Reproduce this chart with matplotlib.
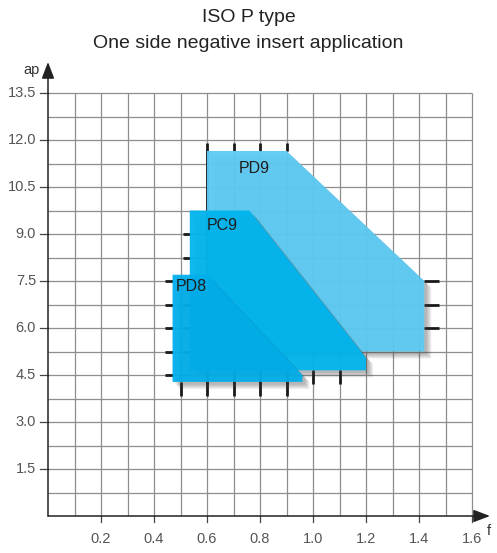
import matplotlib
matplotlib.use("Agg")
import matplotlib.pyplot as plt
import matplotlib.patheffects as pe
from matplotlib.patches import Polygon
import numpy as np

plt.rcParams['font.family'] = ['Liberation Sans', 'DejaVu Sans']

# Application windows: feed f (mm/rev) vs depth of cut ap (mm)
pd9_f = [0.60, 0.90, 1.42, 1.42, 0.60]
pd9_ap = [11.65, 11.65, 7.50, 5.25, 5.25]
pc9_f = [0.535, 0.76, 1.20, 1.20, 0.535]
pc9_ap = [9.75, 9.75, 5.05, 4.65, 4.65]
pd8_f = [0.47, 0.60, 0.96, 0.96, 0.47]
pd8_ap = [7.70, 7.70, 4.50, 4.28, 4.28]

names = ["PD9", "PC9", "PD8"]
x_ticks = [0.2, 0.4, 0.6, 0.8, 1.0, 1.2, 1.4, 1.6]
y_ticks = [1.5, 3.0, 4.5, 6.0, 7.5, 9.0, 10.5, 12.0, 13.5]

W, H = 497, 553
fig = plt.figure(figsize=(W / 100, H / 100), dpi=100)
x0, x1 = 48, 490
y0, y1 = 516, 62
ax = fig.add_axes([x0 / W, (H - y0) / H, (x1 - x0) / W, (y0 - y1) / H])

FMAX, APMAX = 1.6, 13.5
xlim_hi = FMAX * (x1 - x0) / (472 - x0)
ylim_hi = APMAX * (y0 - y1) / (y0 - 93)
ax.set_xlim(0, xlim_hi)
ax.set_ylim(0, ylim_hi)
for s in ax.spines.values():
    s.set_visible(False)
ax.set_xticks([])
ax.set_yticks([])

grid_c = "#8e8e8e"
gx = np.round(np.arange(0.1, FMAX + 1e-9, 0.1), 2)
gy = np.round(np.arange(0.75, APMAX + 1e-9, 0.75), 2)
for v in gx:
    ax.plot([v, v], [0, APMAX], color=grid_c, lw=0.9, zorder=1, solid_capstyle='butt')
for v in gy:
    ax.plot([0, FMAX], [v, v], color=grid_c, lw=0.9, zorder=1, solid_capstyle='butt')

# axes with arrow heads
arrow = dict(arrowstyle="-|>,head_length=1.0,head_width=0.38",
             color="#222222", lw=1.1, shrinkA=0, shrinkB=0)
ax.annotate("", xy=(xlim_hi, 0), xytext=(0, 0), arrowprops=arrow,
            zorder=6, annotation_clip=False)
ax.annotate("", xy=(0, ylim_hi), xytext=(0, 0), arrowprops=arrow,
            zorder=6, annotation_clip=False)

tick_c = "#555555"
for v in x_ticks:
    ax.plot([v, v], [0, -0.2], color="#444444", lw=0.9, clip_on=False, zorder=5)
    ax.text(v, -0.5, f"{v:.1f}", ha="center", va="top", fontsize=10.5, color=tick_c)
for v in y_ticks:
    ax.plot([-0.03, 0], [v, v], color="#444444", lw=0.9, clip_on=False, zorder=5)
    ax.text(-0.045, v, f"{v:.1f}", ha="right", va="center", fontsize=10.5, color=tick_c)

ax.text(-0.03, ylim_hi - 0.25, "ap", ha="right", va="center", fontsize=10.5, color="#333333")
ax.text(xlim_hi - 0.005, -0.25, "f", ha="center", va="top", fontsize=10.5, color="#333333")

stub_kw = dict(color="#1a1a1a", lw=2.0, zorder=2, solid_capstyle='butt')


def bottom_left_stubs(fs, aps):
    xmin, xmax = min(fs), max(fs)
    ymin, ymax = min(aps), max(aps)
    for v in gx:
        if xmin < v < xmax:
            ax.plot([v, v], [ymin - 0.45, ymin], **stub_kw)
    for v in gy:
        if ymin < v < ymax:
            ax.plot([xmin - 0.027, xmin], [v, v], **stub_kw)


def top_right_stubs(fs, aps):
    xmin, xmax = min(fs), max(fs)
    ymin, ymax = min(aps), max(aps)
    for v in gx:
        if xmin < v <= fs[1] + 1e-9:
            ax.plot([v, v], [ymax, ymax + 0.25], **stub_kw)
    for v in gy:
        if ymin < v <= aps[2] + 1e-9:
            ax.plot([xmax, xmax + 0.055], [v, v], **stub_kw)
    ax.plot([xmin, xmin], [ymin, ymax + 0.25], **stub_kw)


top_right_stubs(pd9_f, pd9_ap)
bottom_left_stubs(pc9_f, pc9_ap)
bottom_left_stubs(pd8_f, pd8_ap)

shapes = [
    (pd9_f, pd9_ap, "#5ccaf3", (0.777, 11.1)),
    (pc9_f, pc9_ap, "#00b5ee", (0.657, 9.26)),
    (pd8_f, pd8_ap, "#00aeeb", (0.54, 7.31)),
]
# soft drop shadow built from several faint offset layers
shadow = [pe.SimplePatchShadow(offset=(k, -k), shadow_rgbFace="#404040", alpha=0.11)
          for k in (5, 4, 3, 2)] + [pe.Normal()]
for i, (fs, aps, col, lab) in enumerate(shapes):
    poly = Polygon(np.column_stack([fs, aps]), closed=True, facecolor=col,
                   edgecolor="none", alpha=0.94, zorder=3 + i * 0.1,
                   path_effects=shadow)
    ax.add_patch(poly)
    ax.text(lab[0], lab[1], names[i], ha="center", va="center", fontsize=11.5,
            color="#1e1e1e", zorder=4)

fig.text(0.5, 1 - 18 / H, "ISO P type", ha="center", va="center", fontsize=14, color="#222222")
fig.text(0.5, 1 - 44 / H, "One side negative insert application", ha="center", va="center",
         fontsize=14, color="#222222")

fig.savefig("out.png", dpi=100)
